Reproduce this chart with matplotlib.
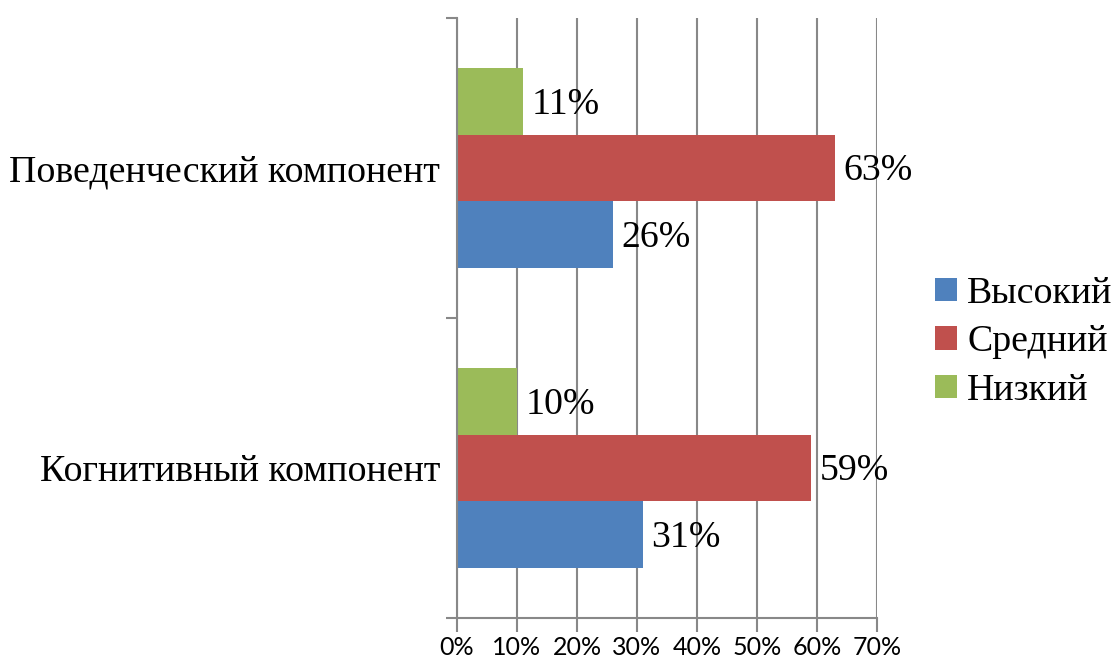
import matplotlib
matplotlib.use("Agg")
import matplotlib.pyplot as plt
import numpy as np
from matplotlib.patches import Patch

categories = ["Когнитивный компонент", "Поведенческий компонент"]
series_names = ["Высокий", "Средний", "Низкий"]
vysokiy = [31, 26]
sredniy = [59, 63]
nizkiy = [10, 11]
x_ticks = [0, 10, 20, 30, 40, 50, 60, 70]
x_tick_labels = ["0%", "10%", "20%", "30%", "40%", "50%", "60%", "70%"]

colors = ["#4F81BD", "#C0504D", "#9BBB59"]
grid_c = "#888888"
serif = ["Liberation Serif", "DejaVu Serif"]

W, H = 1115, 659
fig = plt.figure(figsize=(W / 100, H / 100), dpi=100)
ax = fig.add_axes([457 / W, 1 - 618 / H, (877 - 457) / W, 600 / H])

y = np.arange(len(categories))
bh = 2 / 9
offsets = [-bh, 0, bh]
for vals, off, c in zip([vysokiy, sredniy, nizkiy], offsets, colors):
    bars = ax.barh(y + off, vals, height=bh, color=c, zorder=3)
    for b, v in zip(bars, vals):
        ax.text(b.get_width() + 1.4, b.get_y() + b.get_height() / 2 - 0.01, f"{v}%",
                va="center", ha="left", fontsize=27.3, family=serif, zorder=4)

ax.set_xlim(0, 70)
ax.set_ylim(-0.5, 1.5)
ax.set_xticks(x_ticks)
ax.set_xticklabels(x_tick_labels, family=["Lato", "DejaVu Sans"], fontsize=18)
ax.set_yticks([-0.5, 0.5, 1.5])
ax.set_yticklabels([])
ax.set_yticks(y, minor=True)
ax.set_yticklabels(categories, minor=True, family=serif, fontsize=27.3)
ax.tick_params(axis="y", which="minor", length=0, pad=12)
ax.tick_params(axis="y", which="major", length=8, width=1.5, color=grid_c)
ax.tick_params(axis="x", length=10, width=1.5, color=grid_c, pad=3)
ax.grid(axis="x", color=grid_c, linewidth=1.5, zorder=0)
for s in ["top", "right"]:
    ax.spines[s].set_visible(False)
for s in ["left", "bottom"]:
    ax.spines[s].set_color(grid_c)
    ax.spines[s].set_linewidth(1.5)
    ax.spines[s].set_zorder(5)

handles = [Patch(facecolor=c, edgecolor="none") for c in colors]
leg = fig.legend(handles, series_names, loc="center left", bbox_to_anchor=(935 / W, 1 - 342 / H),
                 frameon=False, prop={"family": serif, "size": 27.3}, handlelength=0.58,
                 handleheight=0.58, handletextpad=0.27, labelspacing=0.37, borderpad=0, borderaxespad=0)

fig.savefig("out.png", dpi=100)
